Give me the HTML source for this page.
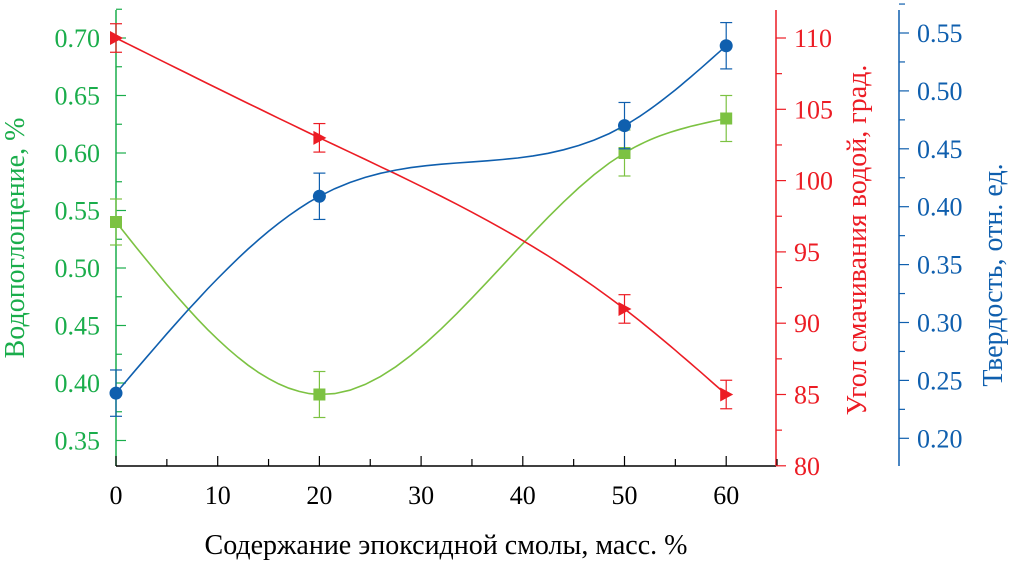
<!DOCTYPE html>
<html><head><meta charset="utf-8"><style>
body{margin:0;background:#fff}
svg,svg text{font-family:"Liberation Serif","Times New Roman",serif}
</style></head><body>
<svg id="c" width="1018" height="568" font-family="Liberation Serif, serif"></svg>
<script>
const xs=[0,20,50,60];
const water=[0.54,0.39,0.60,0.63];
const waterErr=[0.02,0.02,0.02,0.02];
const angle=[110,103,91,85];
const angleErr=[1,1,1,1];
const hard=[0.239,0.409,0.470,0.539];
const hardErr=[0.02,0.02,0.02,0.02];
const xTicks=[0,10,20,30,40,50,60];
const gTicks=[0.35,0.40,0.45,0.50,0.55,0.60,0.65,0.70];
const rTicks=[80,85,90,95,100,105,110];
const bTicks=[0.20,0.25,0.30,0.35,0.40,0.45,0.50,0.55];
const G='#1aad4b',GL='#7cc242',R='#ec1c24',B='#0f5fae';
const FF='Liberation Serif, serif';
const X=v=>116+v*10.17;
const YG=v=>38+(0.70-v)/0.05*57.5;
const YR=v=>38+(110-v)/5*71.3;
const YB=v=>33+(0.55-v)/0.05*57.9;
const s=document.getElementById('c');const NS='http://www.w3.org/2000/svg';
function el(t,a,txt){const e=document.createElementNS(NS,t);for(const k in a)e.setAttribute(k,a[k]);if(txt!==undefined){e.textContent=txt;e.setAttribute('font-family',FF);}s.appendChild(e);return e;}
function spline(px,py){const n=px.length,h=[],al=[],l=[1],mu=[0],z=[0],c=new Array(n).fill(0);
for(let i=0;i<n-1;i++)h.push(px[i+1]-px[i]);
for(let i=1;i<n-1;i++)al[i]=3/h[i]*(py[i+1]-py[i])-3/h[i-1]*(py[i]-py[i-1]);
for(let i=1;i<n-1;i++){l[i]=2*(px[i+1]-px[i-1])-h[i-1]*mu[i-1];mu[i]=h[i]/l[i];z[i]=(al[i]-h[i-1]*z[i-1])/l[i];}
for(let j=n-2;j>=1;j--)c[j]=z[j]-mu[j]*c[j+1];
let d='';for(let i=0;i<n-1;i++){const b=(py[i+1]-py[i])/h[i]-h[i]*(c[i+1]+2*c[i])/3,dd=(c[i+1]-c[i])/(3*h[i]);
for(let k=0;k<=20;k++){const t=h[i]*k/20,y=py[i]+b*t+c[i]*t*t+dd*t*t*t;d+=(d?'L':'M')+X(px[i]+t).toFixed(1)+','+y.toFixed(1);}}
return d;}
let a=el('line',{x1:116,y1:10,x2:116,y2:466,stroke:G,'stroke-width':1.5});
a=el('line',{x1:116,y1:466,x2:776,y2:466,stroke:'#000','stroke-width':1.5});
a=el('line',{x1:776,y1:10,x2:776,y2:466,stroke:R,'stroke-width':1.5});
a=el('line',{x1:899,y1:10,x2:899,y2:466,stroke:B,'stroke-width':1.5});
for(let v=0;v<=65;v+=5){el('line',{x1:X(v),y1:466,x2:X(v),y2:v%10?459:456,stroke:'#000','stroke-width':1.2});}
xTicks.forEach(v=>{const t=el('text',{x:X(v),y:504,'text-anchor':'middle','font-size':26},v);});
gTicks.forEach(v=>{el('line',{x1:116,y1:YG(v),x2:126,y2:YG(v),stroke:G,'stroke-width':1.2});el('line',{x1:116,y1:YG(v+0.025),x2:122,y2:YG(v+0.025),stroke:G,'stroke-width':1.2});
const t=el('text',{x:100,y:YG(v)+9,'text-anchor':'end','font-size':26,fill:G},v.toFixed(2));});
rTicks.forEach(v=>{el('line',{x1:776,y1:YR(v),x2:786,y2:YR(v),stroke:R,'stroke-width':1.2});if(v<110)el('line',{x1:776,y1:YR(v+2.5),x2:782,y2:YR(v+2.5),stroke:R,'stroke-width':1.2});
const t=el('text',{x:794,y:YR(v)+9,'font-size':26,fill:R},v);});
bTicks.forEach(v=>{el('line',{x1:899,y1:YB(v),x2:909,y2:YB(v),stroke:B,'stroke-width':1.2});el('line',{x1:899,y1:YB(v+0.025),x2:905,y2:YB(v+0.025),stroke:B,'stroke-width':1.2});
const t=el('text',{x:917,y:YB(v)+9,'font-size':26,fill:B},v.toFixed(2));});
a=el('text',{x:446,y:554,'text-anchor':'middle','font-size':28},'Содержание эпоксидной смолы, масс. %');
a=el('text',{transform:'translate(24,238) rotate(-90)','text-anchor':'middle','font-size':28,fill:G},'Водопоглощение, %');
a=el('text',{transform:'translate(866,240) rotate(-90)','text-anchor':'middle','font-size':28,fill:R},'Угол смачивания водой, град.');
a=el('text',{transform:'translate(1002,275) rotate(-90)','text-anchor':'middle','font-size':28,fill:B},'Твердость, отн. ед.');
function series(vals,err,Y,col,lineCol,marker,name){
 const p=el('path',{d:spline(xs,vals.map(Y)),fill:'none',stroke:lineCol,'stroke-width':1.6});
 
 xs.forEach((x,i)=>{const cx=X(x),y1=Y(vals[i]+err[i]),y2=Y(vals[i]-err[i]);
  el('line',{x1:cx,y1:y1,x2:cx,y2:y2,stroke:col,'stroke-width':1.2});
  el('line',{x1:cx-6,y1:y1,x2:cx+6,y2:y1,stroke:col,'stroke-width':1.2});
  el('line',{x1:cx-6,y1:y2,x2:cx+6,y2:y2,stroke:col,'stroke-width':1.2});
  const cy=Y(vals[i]);let m;
  if(marker==='sq')m=el('rect',{x:cx-6,y:cy-6,width:12,height:12,fill:col});
  else if(marker==='tri')m=el('polygon',{points:`${cx-6},${cy-7} ${cx+7},${cy} ${cx-6},${cy+7}`,fill:col});
  else m=el('circle',{cx:cx,cy:cy,r:6.5,fill:col});
  });
}
series(water,waterErr,YG,GL,GL,'sq','water-absorption');
series(angle,angleErr,YR,R,R,'tri','contact-angle');
series(hard,hardErr,YB,B,B,'circ','hardness');
</script>
</body></html>
